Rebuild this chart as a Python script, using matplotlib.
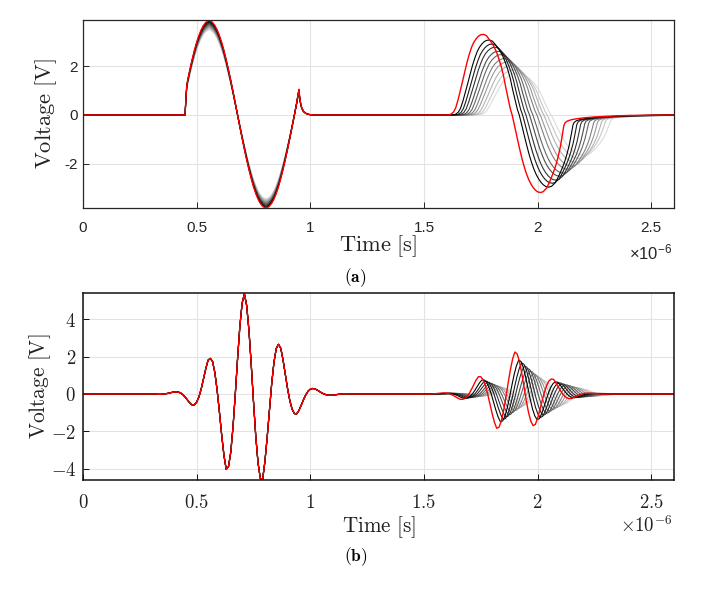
import numpy as np
import matplotlib
matplotlib.use("Agg")
import matplotlib.pyplot as plt

plt.rcParams['mathtext.fontset'] = 'cm'
plt.rcParams['mathtext.rm'] = 'Liberation Sans'
plt.rcParams['mathtext.it'] = 'Liberation Sans:italic'
plt.rcParams['mathtext.bf'] = 'Liberation Sans:bold'

# ---------------- data (time in microseconds, voltage in V) ----------------
# (a) first pulse, red trace
top_p1_t = [0.449, 0.452, 0.456, 0.46, 0.47, 0.48, 0.49, 0.50, 0.51, 0.52, 0.53, 0.54, 0.55, 0.555,
            0.56, 0.57, 0.58, 0.59, 0.60, 0.61, 0.62, 0.63, 0.64, 0.65, 0.66, 0.67, 0.68, 0.69, 0.70,
            0.71, 0.72, 0.73, 0.74, 0.75, 0.76, 0.77, 0.78, 0.79, 0.80, 0.805, 0.81, 0.82, 0.83, 0.84,
            0.85, 0.86, 0.87, 0.88, 0.89, 0.90, 0.91, 0.92, 0.93, 0.94, 0.95, 0.953, 0.957, 0.962,
            0.97, 0.98, 0.99, 1.00, 1.02]
top_p1_v = [0.0, 0.55, 1.15, 1.40, 1.85, 2.26, 2.64, 2.97, 3.25, 3.48, 3.66, 3.78, 3.85, 3.87,
            3.85, 3.78, 3.66, 3.48, 3.25, 2.97, 2.64, 2.26, 1.85, 1.42, 0.96, 0.48, 0.0, -0.48, -0.95,
            -1.40, -1.83, -2.23, -2.60, -2.93, -3.21, -3.44, -3.61, -3.73, -3.79, -3.80, -3.79, -3.73,
            -3.61, -3.44, -3.21, -2.93, -2.60, -2.23, -1.83, -1.40, -0.95, -0.48, 0.0, 0.50, 1.05,
            0.75, 0.50, 0.30, 0.15, 0.07, 0.03, 0.012, 0.0]
# (a) second pulse, red trace
top_p2_t = [1.60, 1.609, 1.62, 1.63, 1.64, 1.65, 1.66, 1.67, 1.68, 1.69, 1.70, 1.71, 1.72, 1.73,
            1.74, 1.75, 1.763, 1.775, 1.79, 1.80, 1.81, 1.82, 1.83, 1.84, 1.85, 1.86, 1.87, 1.88,
            1.888, 1.90, 1.91, 1.92, 1.93, 1.94, 1.95, 1.96, 1.97, 1.98, 1.99, 2.00, 2.013, 2.025,
            2.04, 2.05, 2.06, 2.07, 2.08, 2.09, 2.10, 2.11, 2.115, 2.12, 2.13, 2.15, 2.175, 2.20,
            2.25, 2.30, 2.35, 2.40, 2.50, 2.60]
top_p2_v = [0.0, 0.0, 0.04, 0.12, 0.30, 0.62, 1.00, 1.38, 1.78, 2.17, 2.50, 2.78, 2.98, 3.12,
            3.22, 3.28, 3.29, 3.24, 3.05, 2.92, 2.75, 2.55, 2.28, 1.98, 1.60, 1.12, 0.68, 0.25,
            0.0, -0.50, -0.93, -1.35, -1.74, -2.08, -2.38, -2.62, -2.81, -2.96, -3.07, -3.14, -3.17,
            -3.13, -2.98, -2.79, -2.57, -2.33, -2.06, -1.72, -1.30, -0.75, -0.45, -0.33, -0.25, -0.19,
            -0.15, -0.12, -0.08, -0.055, -0.035, -0.02, -0.008, 0.0]
top_p2_onset = 1.609

# (a) family of grey traces (darkest first)
top_p1_gain = [0.99, 0.98, 0.97, 0.96, 0.95, 0.94, 0.93, 0.92, 0.91, 0.90]
top_p2_delay = [0.020, 0.032, 0.044, 0.057, 0.069, 0.081, 0.093, 0.106, 0.118, 0.130]
top_p2_stretch = [1.04, 1.05, 1.06, 1.07, 1.08, 1.10, 1.11, 1.12, 1.13, 1.15]
top_p2_gain = [0.93, 0.88, 0.84, 0.79, 0.75, 0.70, 0.66, 0.61, 0.56, 0.52]

# (b) first burst, sampled every 0.01 us starting at 0.32 us
bot_p1_t0 = 0.32
bot_p1_v = [0.0, -0.018, -0.017, -0.010, 0.003, 0.024, 0.051, 0.082, 0.106, 0.115,
            0.099, 0.049, -0.041, -0.171, -0.326, -0.483, -0.583, -0.574, -0.436, -0.153,
            0.270, 0.793, 1.340, 1.798, 1.900, 1.734, 1.144, 0.217, -0.945, -2.175,
            -3.269, -4.020, -3.880, -3.112, -1.752, 0.000, 1.886, 3.603, 4.843, 5.350,
            4.723, 3.401, 1.595, -0.394, -2.251, -3.669, -4.500, -4.580, -3.633, -2.348,
            -0.874, 0.536, 1.684, 2.425, 2.650, 2.440, 1.821, 1.053, 0.282, -0.365,
            -0.813, -1.045, -1.061, -0.878, -0.598, -0.303, -0.046, 0.144, 0.255, 0.294,
            0.275, 0.213, 0.135, 0.061, 0.001, -0.041, -0.062, -0.067, -0.059, -0.042,
            -0.025, -0.009, 0.002, 0.009, 0.011, 0.0]
# (b) second burst, sampled every 0.01 us starting at 1.49 us
bot_p2_t0 = 1.49
bot_p2_v = [0.0, -0.006, -0.006, -0.005, -0.002, 0.005, 0.016, 0.029, 0.044, 0.055,
            0.057, 0.047, 0.021, -0.023, -0.083, -0.156, -0.229, -0.282, -0.287, -0.240,
            -0.130, 0.044, 0.269, 0.520, 0.757, 0.927, 0.921, 0.764, 0.454, 0.012,
            -0.511, -1.047, -1.507, -1.830, -1.771, -1.459, -0.914, -0.211, 0.561, 1.288,
            1.866, 2.240, 2.138, 1.739, 1.125, 0.394, -0.346, -0.986, -1.446, -1.690,
            -1.621, -1.295, -0.849, -0.359, 0.096, 0.459, 0.698, 0.799, 0.780, 0.606,
            0.399, 0.188, 0.004, -0.133, -0.216, -0.247, -0.235, -0.182, -0.118, -0.059,
            -0.011, 0.022, 0.041, 0.046, 0.043, 0.034, 0.022, 0.011, 0.003, -0.002,
            -0.005, -0.006, 0.0]
bot_p2_center = 1.90
bot_p2_delay = [0.017, 0.030, 0.042, 0.055, 0.067, 0.080, 0.092, 0.105, 0.117, 0.130]
bot_p2_stretch = [1.01, 1.02, 1.03, 1.04, 1.05, 1.06, 1.07, 1.08, 1.09, 1.10]
bot_p2_gain = [0.81, 0.74, 0.67, 0.61, 0.55, 0.49, 0.44, 0.39, 0.34, 0.30]

grey_levels = [0.0, 0.1, 0.2, 0.3, 0.4, 0.5, 0.6, 0.7, 0.78, 0.86]

xtick_vals = [0, 0.5, 1, 1.5, 2, 2.5]
xtick_labels = ['0', '0.5', '1', '1.5', '2', '2.5']
top_ytick_vals = [-2, 0, 2]
top_ytick_labels = ['-2', '0', '2']
bot_ytick_vals = [-4, -2, 0, 2, 4]
bot_ytick_labels = ['$-4$', '$-2$', '$0$', '$2$', '$4$']


def trace(p1t, p1v, g1, p2t, p2v, g2, d2, s2, c2):
    p2t = np.asarray(p2t, float)
    t = np.concatenate([[0.0], p1t, c2 + (p2t - c2) * s2 + d2, [3.0]])
    v = np.concatenate([[0.0], np.asarray(p1v) * g1, np.asarray(p2v) * g2, [0.0]])
    return t * 1e-6, v


bot_p1_t = bot_p1_t0 + 0.01 * np.arange(len(bot_p1_v))
bot_p2_t = bot_p2_t0 + 0.01 * np.arange(len(bot_p2_v))

fig = plt.figure(figsize=(7.11, 5.92), dpi=100)
ax1 = fig.add_axes([83 / 711, 1 - 208 / 592, 591 / 711, 188 / 592])
ax2 = fig.add_axes([83 / 711, 1 - 480 / 592, 591 / 711, 187 / 592])

# ---- (a)
for k in range(len(grey_levels) - 1, -1, -1):
    t, v = trace(top_p1_t, top_p1_v, top_p1_gain[k], top_p2_t, top_p2_v, top_p2_gain[k],
                 top_p2_delay[k], top_p2_stretch[k], top_p2_onset)
    g = grey_levels[k]
    ax1.plot(t, v, color=(g, g, g), lw=0.8)
t, v = trace(top_p1_t, top_p1_v, 1.0, top_p2_t, top_p2_v, 1.0, 0.0, 1.0, top_p2_onset)
ax1.plot(t, v, color='#ff0000', lw=1.0)

# ---- (b)
for k in range(len(grey_levels) - 1, -1, -1):
    t, v = trace(bot_p1_t, bot_p1_v, 1.0, bot_p2_t, bot_p2_v, bot_p2_gain[k],
                 bot_p2_delay[k], bot_p2_stretch[k], bot_p2_center)
    g = grey_levels[k]
    ax2.plot(t, v, color=(g, g, g), lw=0.8)
t, v = trace(bot_p1_t, bot_p1_v, 1.0, bot_p2_t, bot_p2_v, 1.0, 0.0, 1.0, bot_p2_center)
ax2.plot(t, v, color='#ff0000', lw=1.0)

ax1.set_ylim(-3.8, 3.88)
ax2.set_ylim(-4.59, 5.39)

for ax, box_c, box_lw in ((ax1, '#262626', 0.9), (ax2, '#111111', 1.1)):
    ax.set_xlim(0, 2.6e-6)
    ax.set_xticks(np.array(xtick_vals) * 1e-6)
    ax.grid(True, color='#e3e3e3', lw=0.8)
    ax.set_axisbelow(True)
    for s in ax.spines.values():
        s.set_color(box_c)
        s.set_linewidth(box_lw)
    ax.tick_params(direction='in', length=4, width=0.7, color=box_c,
                   top=False, right=False)

ax1.set_xticklabels(xtick_labels, family='Liberation Sans', fontsize=11, color='#262626')
ax1.set_yticks(top_ytick_vals)
ax1.set_yticklabels(top_ytick_labels, family='Liberation Sans', fontsize=11, color='#262626')
ax1.tick_params(axis='x', pad=9)
ax1.tick_params(axis='y', pad=4)

ax2.set_xticklabels(['$' + s + '$' for s in xtick_labels], fontsize=13.5, color='#222222')
ax2.set_yticks(bot_ytick_vals)
ax2.set_yticklabels(bot_ytick_labels, fontsize=13.5, color='#222222')
ax2.tick_params(axis='x', pad=9)
ax2.tick_params(axis='y', pad=5)

# axis labels
ax1.set_xlabel(r'$\mathrm{Time\ [s]}$', fontsize=16.2, color='#222222', va='center')
ax1.xaxis.set_label_coords(0.5, -0.202)
ax1.set_ylabel(r'$\mathrm{Voltage\ [V]}$', fontsize=16.2, color='#222222', va='center')
ax1.yaxis.set_label_coords(-0.0626, 0.5)
ax2.set_xlabel(r'$\mathrm{Time\ [s]}$', fontsize=15.2, color='#222222', va='center')
ax2.xaxis.set_label_coords(0.5, -0.251)
ax2.set_ylabel(r'$\mathrm{Voltage\ [V]}$', fontsize=15.4, color='#222222', va='center')
ax2.yaxis.set_label_coords(-0.0728, 0.5)

# exponent texts
ax1.text(0.9966, -0.239, '\u00d710$^{-6}$', transform=ax1.transAxes, ha='right', va='center',
         family='Liberation Sans', fontsize=12, color='#262626', math_fontfamily='custom')
ax2.text(0.9966, -0.241, r'$\times10^{-6}$', transform=ax2.transAxes, ha='right', va='center',
         fontsize=13.5, color='#222222')

# captions
fig.text(0.5, 1 - 278 / 592, r'$\mathbf{(a)}$', ha='center', va='center', fontsize=12.5)
fig.text(0.5, 1 - 557 / 592, r'$\mathbf{(b)}$', ha='center', va='center', fontsize=12.5)

fig.canvas.draw()
fig.savefig('out.png', dpi=100)
